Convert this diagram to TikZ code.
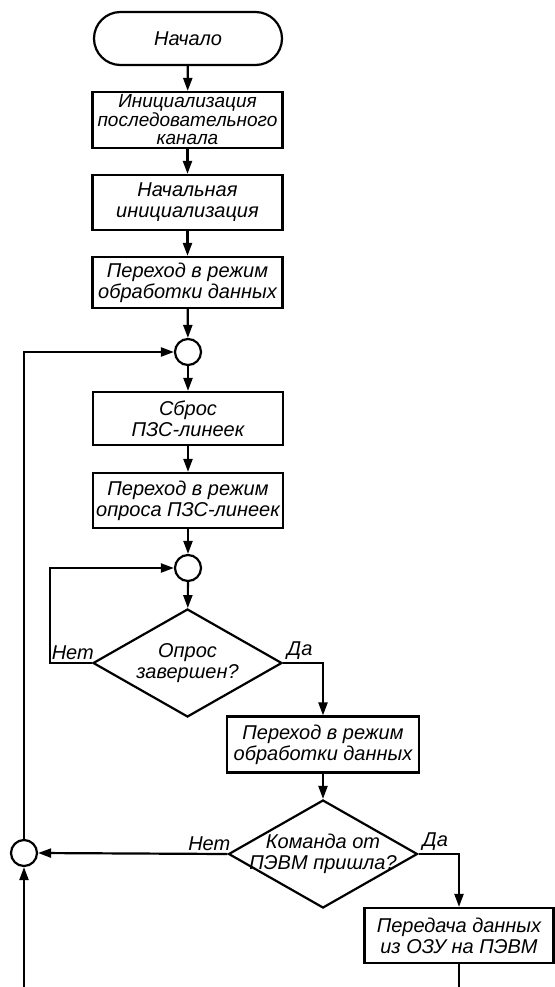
\documentclass[tikz,border=0pt]{standalone}
\usepackage{fontspec}
\setmainfont{Liberation Sans}
\usetikzlibrary{shapes.geometric,shapes.misc,arrows.meta}

\begin{document}
\begin{tikzpicture}[x=1pt,y=-1pt,line width=2.2pt,>={Triangle[length=13pt,width=9pt]},
  every node/.style={font=\itshape\fontsize{20}{21}\selectfont,align=center,inner sep=0pt},
  blok/.style={draw,minimum width=190pt,minimum height=54pt},
  term/.style={draw,rounded rectangle,minimum width=188pt,minimum height=53pt},
  usl/.style={draw,diamond,minimum width=189pt,minimum height=108pt},
  uzel/.style={draw,circle,minimum size=26pt}]
\useasboundingbox (0,0) rectangle (554,987);

\node[term] (start) at (188,38.5) {Начало};
\node[blok,minimum height=56pt,font=\itshape\fontsize{19}{18.5}\selectfont] (init) at (187.5,120) {Инициализация\\последовательного\\канала};
\node[blok,minimum height=55pt] (first) at (187.5,202.5) {Начальная\\инициализация};
\node[blok,minimum height=51pt] (mode) at (187.5,282.5) {Переход в режим\\обработки данных};
\node[uzel] (j1) at (188,352) {};
\node[blok,minimum height=53pt] (reset) at (188,418.5) {Сброс\\ПЗС-линеек};
\node[blok,minimum height=55pt] (poll) at (188,500.5) {Переход в режим\\опроса ПЗС-линеек};
\node[uzel] (j2) at (188,568) {};
\node[usl,label={[align=center]center:Опрос\\завершен?}] (done) at (187.5,663) {};
\node[blok,minimum width=192pt,minimum height=56pt] (proc) at (323,744.5) {Переход в режим\\обработки данных};
\node[usl,label={[align=center]center:Команда от\\ПЭВМ пришла?}] (cmd) at (323,854) {};
\node[blok,minimum width=189pt,minimum height=55pt] (send) at (459,935.5) {Передача данных\\из ОЗУ на ПЭВМ};
\node[uzel] (j3) at (24,853) {};
\coordinate (sendout) at (459,987);
\coordinate (loopin) at (24,987);

\node[anchor=south east] (no1) at ([xshift=3pt,yshift=2pt]done.west) {Нет};
\node[anchor=south west] (yes1) at ([xshift=3pt,yshift=2pt]done.east) {Да};
\node[anchor=south east] (no2) at ([xshift=4pt,yshift=2pt]cmd.west) {Нет};
\node[anchor=south west] (yes2) at ([xshift=3pt,yshift=2pt]cmd.east) {Да};

\foreach \a/\b in {start/init, init/first, first/mode, mode/j1, j1/reset,%
            reset/poll, poll/j2, j2/done, proc/cmd%
            }
    \draw[->] (\a) -- (\b);

\draw[->] (done.east) -| (proc.north);
\draw[->] (done.west) -- ++(-42,0) |- (j2.west);
\draw[->] (cmd.west) -- (j3.east);
\draw[->] (cmd.east) -| (send.north);
\draw (send.south) -- (sendout);
\draw[->] (loopin) -- (j3.south);
\draw[->] (j3.north) |- (j1.west);

\end{tikzpicture}
\end{document}
